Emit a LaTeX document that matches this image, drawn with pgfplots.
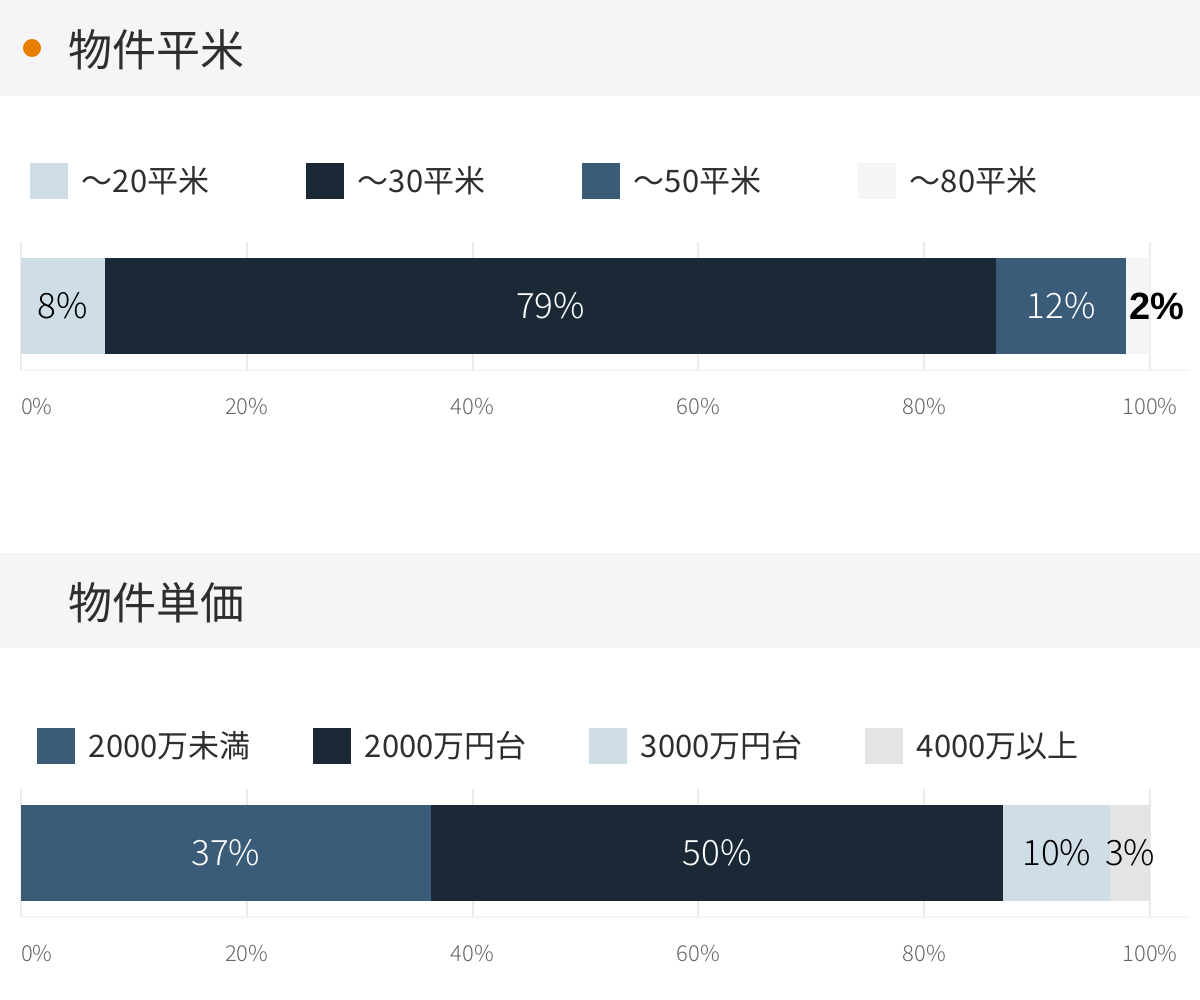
\documentclass[border=0pt]{standalone}
\usepackage{fontspec}
\setmainfont{Noto Sans CJK JP}
\newfontfamily\arial{Liberation Sans}
\newfontfamily\thin{Noto Sans CJK JP Light}
\usepackage{pgfplots}
\pgfplotsset{compat=1.18}

\definecolor{sky}{HTML}{CFDDE7}
\definecolor{navy}{HTML}{1B2936}
\definecolor{steel}{HTML}{3A5C78}
\definecolor{paper}{HTML}{F5F5F5}
\definecolor{ash}{HTML}{E4E4E4}
\definecolor{head}{HTML}{F5F5F5}
\definecolor{ink}{HTML}{2E2E2E}
\definecolor{tickc}{HTML}{666666}
\definecolor{gridc}{HTML}{EBEBEB}
\definecolor{dot}{HTML}{E57E00}

\pgfplotsset{
  panel/.style={
    xbar stacked, scale only axis, width=564.5pt, height=64pt,
    xmin=0, xmax=100, ymin=-1, ymax=1, bar width=48pt,
    axis line style={draw=none}, ytick=\empty,
    xtick={0,20,40,60,80,100},
    xticklabels={\makebox[0pt][l]{0\%},20\%,40\%,60\%,80\%,100\%},
    xticklabel style={anchor=center, yshift=-18pt, text=tickc,
      font=\thin\fontsize{11}{13}\selectfont},
    major tick length=0pt, tick style={draw=none},
    xmajorgrids, major grid style={gridc, line width=1pt},
    clip=false,
    legend columns=4, legend cell align=left,
    legend style={draw=none, fill=none, inner sep=0pt, outer sep=0pt,
      at={(axis description cs:0,1)}, anchor=west, text=ink,
      font=\fontsize{15.5}{18}\selectfont,
      /tikz/every odd column/.append style={column sep=7pt},
      /tikz/every even column/.append style={column sep=0pt},
      nodes={inner sep=0pt, text width=112pt, align=left}},
    legend image code/.code={\fill[##1] (0pt,-9pt) rectangle (19pt,9pt);},
    point meta=explicit symbolic,
  },
  % stacked bar labels already sit at the middle of their segment
  mid/.style={draw=none, fill=#1, nodes near coords,
    nodes near coords style={anchor=center,
      font=\thin\fontsize{17.5}{20}\selectfont}},
}

\begin{document}
\begin{tikzpicture}
% page and header bands
\fill[white] (0pt,0pt) rectangle (600pt,-500pt);
\fill[head] (0pt,0pt) rectangle (600pt,-48pt);
\fill[head] (0pt,-276.5pt) rectangle (600pt,-324pt);
\fill[dot] (16pt,-24pt) circle (4.5pt);
\node[anchor=west, inner sep=0pt, text=ink, font=\fontsize{22}{26}\selectfont]
  at (34pt,-25pt) {物件平米};
\node[anchor=west, inner sep=0pt, text=ink, font=\fontsize{22}{26}\selectfont]
  at (34pt,-301.5pt) {物件単価};
\draw[paper, line width=1pt] (10.5pt,-185pt) -- (595pt,-185pt);
\draw[paper, line width=1pt] (10.5pt,-458.5pt) -- (595pt,-458.5pt);

% 物件平米
\begin{axis}[panel, at={(10.5pt,-185pt)}, anchor=south west,
  legend style={xshift=4.5pt, yshift=30.5pt}]
\addplot[mid=sky, nodes near coords style={text=black}] coordinates {(7.4,0) [8\%]};
\addlegendentry{～20平米}
\addplot[mid=navy, nodes near coords style={text=white}] coordinates {(79.0,0) [79\%]};
\addlegendentry{～30平米}
\addplot[mid=steel, nodes near coords style={text=white}] coordinates {(11.5,0) [12\%]};
\addlegendentry{～50平米}
\addplot[draw=none, fill=paper, nodes near coords,
  nodes near coords style={anchor=center, xshift=9.5pt, text=black,
    font=\arial\bfseries\fontsize{19}{22}\selectfont}]
  coordinates {(2.1,0) [2\%]};
\addlegendentry{～80平米}
\end{axis}

% 物件単価
\begin{axis}[panel, at={(10.5pt,-458.5pt)}, anchor=south west,
  legend style={xshift=8pt, yshift=21.5pt}]
\addplot[mid=steel, nodes near coords style={text=white}] coordinates {(36.3,0) [37\%]};
\addlegendentry{2000万未満}
\addplot[mid=navy, nodes near coords style={text=white}] coordinates {(50.7,0) [50\%]};
\addlegendentry{2000万円台}
\addplot[mid=sky, nodes near coords style={text=black}] coordinates {(9.5,0) [10\%]};
\addlegendentry{3000万円台}
\addplot[mid=ash, nodes near coords style={text=black}] coordinates {(3.5,0) [3\%]};
\addlegendentry{4000万以上}
\end{axis}
\end{tikzpicture}
\end{document}
